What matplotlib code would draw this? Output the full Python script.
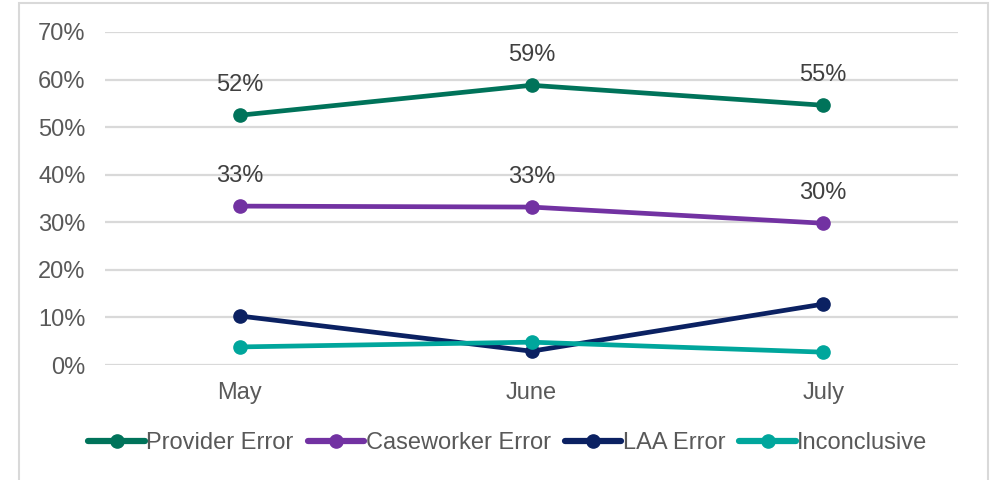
import matplotlib
matplotlib.use("Agg")
import matplotlib.pyplot as plt
from matplotlib.patches import Rectangle
from matplotlib.ticker import FuncFormatter

plt.rcParams['font.family'] = ['Liberation Sans', 'DejaVu Sans']

months = ["May", "June", "July"]
provider = [52.5, 58.8, 54.6]
caseworker = [33.4, 33.2, 29.8]
laa = [10.3, 2.9, 12.8]
inconclusive = [3.8, 4.8, 2.7]
provider_labels = ["52%", "59%", "55%"]
caseworker_labels = ["33%", "33%", "30%"]

series = [
    ("Provider Error", provider, "#00735A"),
    ("Caseworker Error", caseworker, "#7232A2"),
    ("LAA Error", laa, "#0B2162"),
    ("Inconclusive", inconclusive, "#00A69C"),
]

fig = plt.figure(figsize=(9.92, 4.8), dpi=100)
ax = fig.add_axes([105/992, 1-365/480, (958-105)/992, (365-32)/480])

x = list(range(len(months)))
for name, vals, col in series:
    ax.plot(x, vals, color=col, lw=3.4, marker='o', ms=9.5, label=name,
            solid_capstyle='round')

for xi, v, t in zip(x, provider, provider_labels):
    ax.annotate(t, (xi, v), xytext=(0, 22), textcoords='offset points',
                ha='center', va='center', fontsize=17, color='#404040')
for xi, v, t in zip(x, caseworker, caseworker_labels):
    ax.annotate(t, (xi, v), xytext=(0, 22), textcoords='offset points',
                ha='center', va='center', fontsize=17, color='#404040')

ax.set_ylim(0, 70)
ax.set_yticks(range(0, 71, 10))
ax.yaxis.set_major_formatter(FuncFormatter(lambda v, p: f"{int(v)}%"))
ax.set_xlim(-0.462, 2.462)
ax.set_xticks(x)
ax.set_xticklabels(months)
ax.grid(axis='y', color='#D9D9D9', lw=1.6)
ax.set_axisbelow(True)
for s in ax.spines.values():
    s.set_visible(False)
ax.tick_params(axis='both', length=0, labelsize=17, colors='#595959')
ax.tick_params(axis='x', pad=12)
ax.tick_params(axis='y', pad=14)

leg = fig.legend(loc='center', bbox_to_anchor=(0.512, 1-443/480), ncol=4,
                 frameon=False, fontsize=17, handlelength=2.4, handletextpad=0.05,
                 columnspacing=0.6, markerscale=1.0)
for t in leg.get_texts():
    t.set_color('#595959')
for h in leg.legend_handles:
    h.set_linewidth(4.5)

fig.patches.append(Rectangle((19/992, -0.05), (988-19)/992, (477/480)+0.05,
                             transform=fig.transFigure, fill=False,
                             edgecolor='#D9D9D9', lw=1.5))

fig.savefig("out.png", dpi=100)
